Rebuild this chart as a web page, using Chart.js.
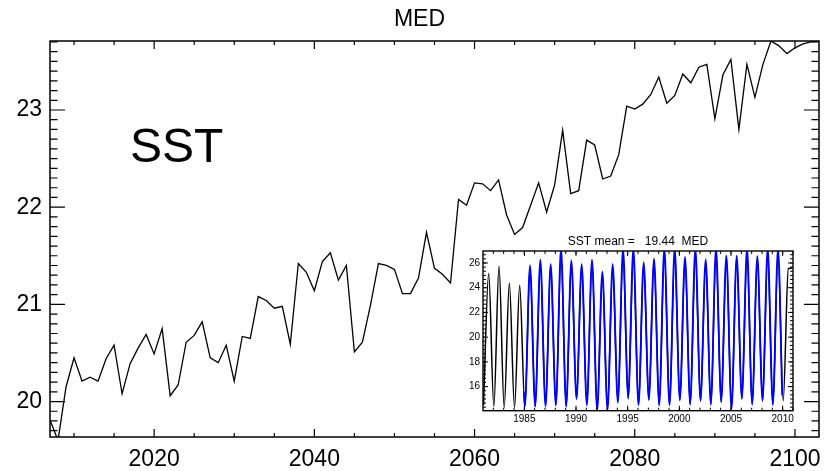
<!DOCTYPE html>
<html><head><meta charset="utf-8">
<script src="https://cdn.jsdelivr.net/npm/chart.js@4.4.1/dist/chart.umd.min.js"></script>
<style>
html,body{margin:0;padding:0;background:#fff;}
#wrap{position:relative;width:839px;height:471px;overflow:hidden;background:#fff;}
#main{position:absolute;left:0;top:0;}
#inset{position:absolute;left:455px;top:230px;}
</style></head><body>
<div id="wrap"><canvas id="main" width="839" height="471"></canvas><canvas id="inset" width="345" height="200"></canvas></div>
<script>
const FONT = "'Liberation Sans', Arial, Helvetica, sans-serif";

// ---------- main chart data ----------
const mainTitle = "MED";
const mainLabel = "SST";
const firstYear = 2007;
const sstAnnual = [
  19.81, 19.60, 20.15, 20.45, 20.21, 20.25, 20.21, 20.44, 20.58, 20.08,
  20.39, 20.55, 20.69, 20.49, 20.75, 20.06, 20.17, 20.61, 20.68, 20.82,
  20.45, 20.40, 20.58, 20.21, 20.67, 20.65, 21.08, 21.04, 20.96, 20.98,
  20.59, 21.42, 21.33, 21.14, 21.44, 21.53, 21.25, 21.40, 20.51, 20.61,
  20.99, 21.42, 21.40, 21.36, 21.11, 21.11, 21.27, 21.74, 21.37, 21.31,
  21.22, 22.08, 22.02, 22.25, 22.24, 22.17, 22.28, 21.92, 21.72, 21.79,
  22.02, 22.25, 21.95, 22.23, 22.79, 22.14, 22.17, 22.69, 22.64, 22.29,
  22.32, 22.54, 23.04, 23.01, 23.06, 23.16, 23.34, 23.07, 23.15, 23.37,
  23.28, 23.44, 23.47, 22.91, 23.36, 23.52, 22.80, 23.47, 23.13, 23.47,
  23.71, 23.66, 23.58, 23.64, 23.68, 23.70, 23.71
];
const mainXTicks = [2020, 2040, 2060, 2080, 2100];
const mainYTicks = [20, 21, 22, 23];

// ---------- inset data ----------
const insetTitle = "SST mean =   19.44  MED";
const insetXTicks = [1985, 1990, 1995, 2000, 2005, 2010];
const insetYTicks = [16, 18, 20, 22, 24, 26];
const troughPhase = 0.05, peakPhase = 0.55;
// model (black): years 1981..2010
const modelFirstYear = 1981;
const modelTroughs = [14.5, 14.4, 14.3, 14.3, 14.4, 14.4, 14.5, 14.5, 14.4, 15.0,
  14.6, 14.3, 14.3, 14.8, 15.0, 14.5, 14.9, 14.5, 14.5, 14.9,
  14.5, 14.8, 14.5, 14.7, 14.3, 15.0, 14.5, 14.8, 14.5, 14.85];
const modelPeaks = [25.15, 25.73, 24.39, 24.2, 25.6, 26.0, 25.7, 26.6, 26.0, 25.7,
  26.0, 25.1, 25.7, 26.6, 26.5, 25.9, 26.2, 26.7, 26.5, 26.3,
  26.6, 26.1, 26.7, 26.5, 26.4, 26.6, 26.4, 26.5, 26.7, 25.55];
const modelEnd = [2010.95, 25.6];
// observations (blue): years 1985..2009
const obsFirstYear = 1985;
const obsStart = [1984.95, 15.6];
const obsTroughs = [14.4, 14.4, 14.4, 14.5, 14.4, 15.0, 14.5, 14.05, 14.1, 14.7,
  15.1, 14.5, 14.95, 14.5, 14.5, 14.9, 14.6, 14.9, 14.6, 14.8,
  14.2, 15.05, 14.6, 14.9, 14.55];
const obsPeaks = [25.8, 26.27, 25.9, 27.2, 26.2, 25.9, 26.27, 25.3, 25.9, 27.2,
  27.2, 26.05, 26.35, 27.2, 27.2, 26.5, 27.2, 26.3, 27.2, 26.6,
  26.6, 27.2, 26.55, 27.2, 27.2];
const obsEnd = [2009.95, 15.3];

// ---------- build tables ----------
const mainPoints = sstAnnual.map((v, i) => ({x: firstYear + i, y: v}));
function cycle(first, troughs, peaks) {
  const pts = [];
  for (let i = 0; i < peaks.length; i++) {
    pts.push({x: first + i + troughPhase, y: troughs[i]});
    pts.push({x: first + i + peakPhase, y: peaks[i]});
  }
  return pts;
}
const modelPoints = cycle(modelFirstYear, modelTroughs, modelPeaks);
modelPoints.push({x: modelEnd[0], y: modelEnd[1]});
const obsPoints = [{x: obsStart[0], y: obsStart[1]}].concat(cycle(obsFirstYear, obsTroughs, obsPeaks));
obsPoints.push({x: obsEnd[0], y: obsEnd[1]});

function range(a, b, s) { const r = []; for (let v = a; v <= b + 1e-9; v += s) r.push(Math.round(v * 1000) / 1000); return r; }

const frame = {
  id: 'frame',
  beforeDatasetsDraw(chart, args, o) {
    if (!o.fill) return;
    const {ctx, chartArea: a} = chart;
    ctx.save(); ctx.fillStyle = '#fff'; ctx.fillRect(a.left, a.top, a.right - a.left, a.bottom - a.top); ctx.restore();
  },
  afterDatasetsDraw(chart, args, o) {
    const {ctx, chartArea: a, scales: {x, y}} = chart;
    ctx.save();
    ctx.strokeStyle = '#000';
    ctx.lineWidth = o.tw;
    ctx.beginPath();
    const seg = (x1, y1, x2, y2) => { ctx.moveTo(x1, y1); ctx.lineTo(x2, y2); };
    o.xMinor.forEach(v => { const p = x.getPixelForValue(v); seg(p, a.bottom, p, a.bottom - o.xMin); seg(p, a.top, p, a.top + o.xMin); });
    o.xMajor.forEach(v => { const p = x.getPixelForValue(v); seg(p, a.bottom, p, a.bottom - o.xMaj); seg(p, a.top, p, a.top + o.xMaj); });
    o.yMinor.forEach(v => { const p = y.getPixelForValue(v); seg(a.left, p, a.left + o.yMin, p); seg(a.right, p, a.right - o.yMin, p); });
    o.yMajor.forEach(v => { const p = y.getPixelForValue(v); seg(a.left, p, a.left + o.yMaj, p); seg(a.right, p, a.right - o.yMaj, p); });
    ctx.stroke();
    ctx.lineWidth = o.bw;
    ctx.strokeRect(a.left, a.top, a.right - a.left, a.bottom - a.top);
    ctx.fillStyle = '#000';
    (o.texts || []).forEach(t => {
      ctx.font = t.font; ctx.textAlign = t.align; ctx.textBaseline = t.baseline;
      ctx.fillText(t.text, t.x(chart), t.y(chart));
    });
    ctx.restore();
  }
};

const mainChart = new Chart(document.getElementById('main'), {
  type: 'line',
  data: {datasets: [{data: mainPoints, borderColor: '#000', borderWidth: 1.3, pointRadius: 0, tension: 0}]},
  plugins: [frame],
  options: {
    responsive: false, animation: false, devicePixelRatio: 1,
    layout: {padding: {top: 41, right: 20, left: 0, bottom: 0}},
    plugins: {
      legend: {display: false}, tooltip: {enabled: false},
      frame: {
        tw: 1.2, bw: 1.5,
        xMajor: mainXTicks, xMinor: range(2010, 2100, 5), xMaj: 8, xMin: 4,
        yMajor: mainYTicks, yMinor: range(19.7, 23.7, 0.1), yMaj: 15, yMin: 7.5,
        texts: [
          {text: mainTitle, font: '23px ' + FONT, align: 'center', baseline: 'middle', x: c => c.width / 2, y: c => 20},
          {text: mainLabel, font: '48px ' + FONT, align: 'left', baseline: 'alphabetic', x: c => 130, y: c => 162}
        ]
      }
    },
    scales: {
      x: {
        type: 'linear', min: 2007, max: 2103,
        afterBuildTicks: s => { s.ticks = mainXTicks.map(v => ({value: v})); },
        afterFit: s => { s.height = 34; },
        grid: {display: false, drawTicks: false}, border: {display: false},
        ticks: {font: {size: 23, family: FONT}, color: '#000', padding: 9, maxRotation: 0, autoSkip: false, callback: v => String(v)}
      },
      y: {
        type: 'linear', min: 19.635, max: 23.71,
        afterBuildTicks: s => { s.ticks = mainYTicks.map(v => ({value: v})); },
        afterFit: s => { s.width = 50; },
        grid: {display: false, drawTicks: false}, border: {display: false},
        ticks: {font: {size: 23, family: FONT}, color: '#000', padding: 8, callback: v => String(v)}
      }
    }
  }
});

const insetChart = new Chart(document.getElementById('inset'), {
  type: 'line',
  data: {datasets: [
    {data: modelPoints, borderColor: '#000', borderWidth: 1.5, pointRadius: 0, cubicInterpolationMode: 'monotone', order: 1},
    {data: obsPoints, borderColor: '#0000ff', borderWidth: 1.8, pointRadius: 0, cubicInterpolationMode: 'monotone', order: 0}
  ]},
  plugins: [frame],
  options: {
    responsive: false, animation: false, devicePixelRatio: 1,
    layout: {padding: {top: 21, right: 7, left: 0, bottom: 0}},
    plugins: {
      legend: {display: false}, tooltip: {enabled: false},
      frame: {
        fill: true, tw: 1, bw: 1.4,
        xMajor: insetXTicks, xMinor: range(1982, 2011, 1), xMaj: 5, xMin: 3,
        yMajor: insetYTicks, yMinor: range(14 + 1/3, 26.67, 1/3), yMaj: 5, yMin: 3,
        texts: [
          {text: insetTitle, font: '12px ' + FONT, align: 'center', baseline: 'middle', x: c => (c.chartArea.left + c.chartArea.right) / 2, y: c => 11.7}
        ]
      }
    },
    scales: {
      x: {
        type: 'linear', min: 1981, max: 2011,
        afterBuildTicks: s => { s.ticks = insetXTicks.map(v => ({value: v})); },
        afterFit: s => { s.height = 19.3; },
        grid: {display: false, drawTicks: false}, border: {display: false},
        ticks: {font: {size: 10, family: FONT}, color: '#000', padding: 3, maxRotation: 0, autoSkip: false, callback: v => String(v)}
      },
      y: {
        type: 'linear', min: 14.05, max: 26.97,
        afterBuildTicks: s => { s.ticks = insetYTicks.map(v => ({value: v})); },
        afterFit: s => { s.width = 28; },
        grid: {display: false, drawTicks: false}, border: {display: false},
        ticks: {font: {size: 10, family: FONT}, color: '#000', padding: 3, callback: v => String(v)}
      }
    }
  }
});
</script>
</body></html>
